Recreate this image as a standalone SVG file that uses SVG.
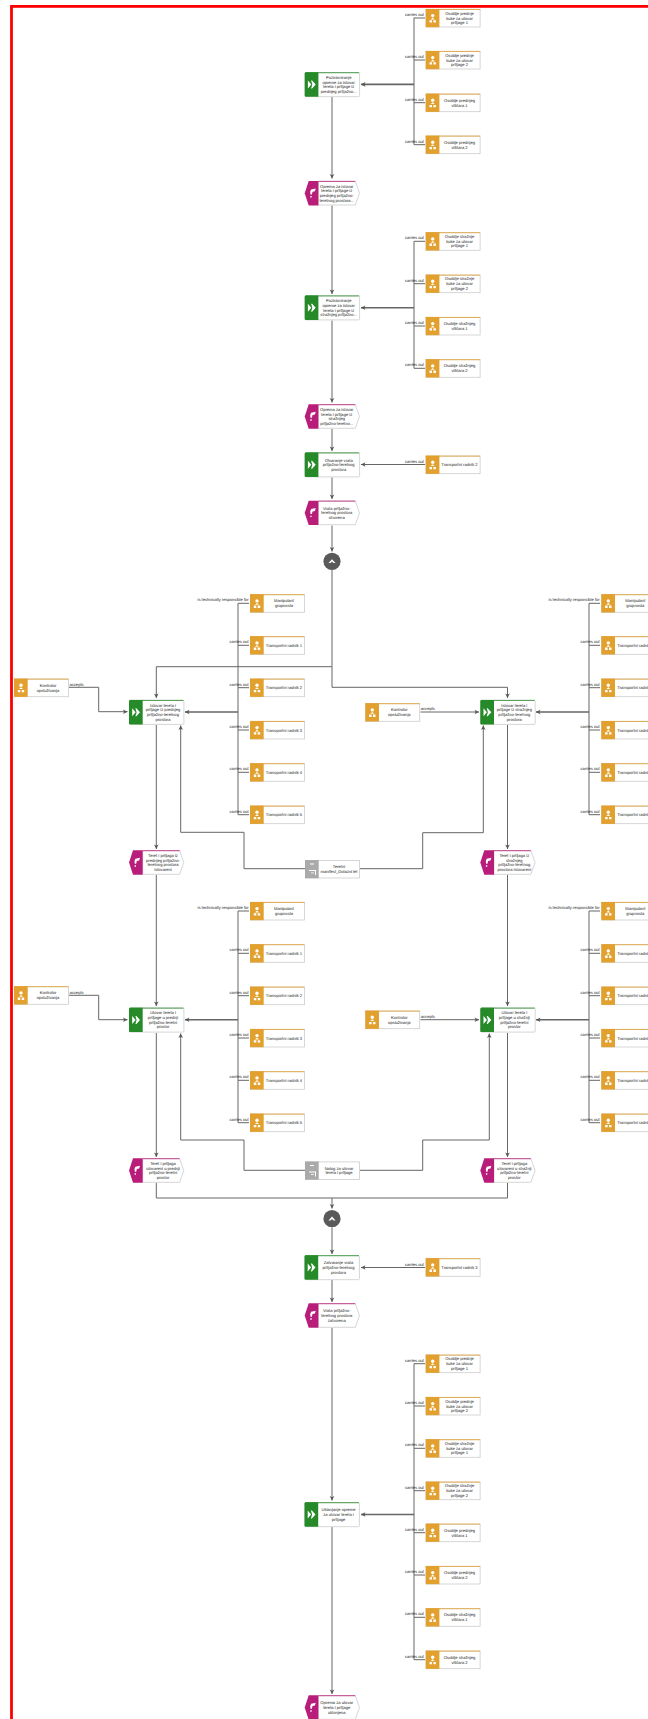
<svg xmlns="http://www.w3.org/2000/svg" width="648" height="1719" viewBox="0 0 648 1719">
<style>
text{font-family:"Liberation Sans",Arial,sans-serif;font-size:4.1px;fill:#222;text-rendering:geometricPrecision}
.c{text-anchor:middle}
.e{text-anchor:end}
.ln{fill:none;stroke:#666;stroke-width:1}
.th{fill:none;stroke:#666;stroke-width:1.6}
.box{fill:#fff;stroke:#ccc;stroke-width:.8}
.ic{fill:#fff}
</style>
<defs>
<marker id="a" markerUnits="userSpaceOnUse" markerWidth="5" markerHeight="5" refX="4.5" refY="2.5" orient="auto" overflow="visible"><path d="M0 .2L4.5 2.5L0 4.8L1.2 2.5Z" fill="#555"/></marker>
<g id="role"><rect class="box" x=".4" y=".4" width="54" height="17.6"/><rect x="0" y="0" width="13.7" height="18.2" fill="#e2a02e"/><path d="M0 .4H54.5" stroke="#e2a02e" stroke-width=".8"/><circle class="ic" cx="7" cy="6.6" r="1.7"/><path class="ic" d="M5 10.4L7 8.6L9 10.4ZM3.8 11.2H6.3V13.6H3.8ZM7.7 11.2H10.2V13.6H7.7Z"/></g>
<g id="doc"><rect class="box" x=".4" y=".4" width="54" height="17.6"/><rect x="0" y="0" width="13.7" height="18.2" fill="#aaa"/><path class="ic" d="M5 3.5H9V4.5H5ZM4 10H10V11H4ZM10 10H11V15H10ZM6 12.5H9V13.3H6Z"/></g>
<g id="func"><rect class="box" x=".4" y=".4" width="54.5" height="24" rx="1"/><path d="M1 .4H54.5" stroke="#278a28" stroke-width=".8"/><path d="M1.2 0H13.7V24.4H1.2Q0 24.4 0 23.2V1.2Q0 0 1.2 0Z" fill="#278a28"/><path class="ic" d="M3.2 8.2L6.6 12.2L3.2 16.2ZM6.4 8.2H7.4L11 12.2L7.4 16.2H6.4L7.6 12.2Z"/></g>
<g id="event"><path class="box" d="M13.7 .4H50.6L54.8 12.2L50.6 24H13.7Z"/><path d="M13.7 .4H50.6" stroke="#b91d7a" stroke-width=".8"/><path d="M4 0H13.7V24.4H4L0 12.2Z" fill="#b91d7a"/><path class="ic" d="M5.5 10.6L6.4 8.4L11 7.4L10.2 10.2L7.8 10.8L7.2 13.4H5.8ZM5.6 15H7V16.4H5.6Z"/></g>
</defs>
<rect id="frame" x="11.5" y="6.4" width="800" height="1800" fill="none" stroke="#f00" stroke-width="2.8"/>
<g id="connectors">
<path class="ln" d="M414 17.7V144.7M414 18H425M414 60H425M414 102.7H425M414 144.7H425"/>
<path class="th" marker-end="url(#a)" d="M414 84.4H361"/>
<path class="ln" marker-end="url(#a)" d="M332 97V178.5"/>
<path class="ln" marker-end="url(#a)" d="M332 205.5V294"/>
<path class="ln" d="M414 241.3V368.3M414 241.3H425M414 283.7H425M414 326H425M414 368.3H425"/>
<path class="th" marker-end="url(#a)" d="M414 307.7H361"/>
<path class="ln" marker-end="url(#a)" d="M332 320.5V402.5"/>
<path class="ln" marker-end="url(#a)" d="M332 429V451"/>
<path class="ln" marker-end="url(#a)" d="M425 464.5H361"/>
<path class="ln" marker-end="url(#a)" d="M332 477.5V499"/>
<path class="ln" marker-end="url(#a)" d="M332 525.5V551.5"/>
<path class="ln" marker-end="url(#a)" d="M332 570V666.7H156.3V698"/>
<path class="ln" marker-end="url(#a)" d="M332 666.7V687.3H507.5V698"/>
<path class="ln" d="M238 603.3V814.7M238 603.3H249M238 645.3H249M238 687.7H249M238 730H249M238 772.3H249M238 814.7H249"/>
<path class="th" marker-end="url(#a)" d="M238 712H185"/>
<path class="ln" marker-end="url(#a)" d="M69 687.3H98.7V711.7H127.5"/>
<path class="ln" marker-end="url(#a)" d="M156.3 725V849"/>
<path class="ln" marker-end="url(#a)" d="M305 868.7H244V832.3H180.7V725.5"/>
<path class="ln" d="M589 603.3V814.7M589 603.3H600M589 645.3H600M589 687.7H600M589 730H600M589 772.3H600M589 814.7H600"/>
<path class="th" marker-end="url(#a)" d="M589 712H536"/>
<path class="ln" marker-end="url(#a)" d="M420.5 712H479"/>
<path class="ln" marker-end="url(#a)" d="M507.5 725V849"/>
<path class="ln" marker-end="url(#a)" d="M360 868.7H422.7V832.7H483.3V725.5"/>
<path class="ln" marker-end="url(#a)" d="M156.3 875V1006"/>
<path class="ln" marker-end="url(#a)" d="M507.5 875V1006"/>
<path class="ln" d="M238 911V1122.7M238 911H249M238 953.3H249M238 995.7H249M238 1038H249M238 1080.3H249M238 1122.7H249"/>
<path class="th" marker-end="url(#a)" d="M238 1019.8H185"/>
<path class="ln" marker-end="url(#a)" d="M69 995.3H98.7V1019.7H127.5"/>
<path class="ln" marker-end="url(#a)" d="M156.3 1033V1157"/>
<path class="ln" marker-end="url(#a)" d="M305 1170.3H244V1140H180.7V1033.5"/>
<path class="ln" d="M589 911V1122.7M589 911H600M589 953.3H600M589 995.7H600M589 1038H600M589 1080.3H600M589 1122.7H600"/>
<path class="th" marker-end="url(#a)" d="M589 1019.8H536"/>
<path class="ln" marker-end="url(#a)" d="M420.5 1019.7H479"/>
<path class="ln" marker-end="url(#a)" d="M507.5 1033V1157"/>
<path class="ln" marker-end="url(#a)" d="M360 1170.3H422.7V1140H489.3V1033.5"/>
<path class="ln" d="M156.3 1183V1198H507.5V1183"/>
<path class="ln" marker-end="url(#a)" d="M332 1198V1208.5"/>
<path class="ln" marker-end="url(#a)" d="M332 1227.5V1254"/>
<path class="ln" marker-end="url(#a)" d="M425 1267.5H361"/>
<path class="ln" marker-end="url(#a)" d="M332 1280V1302"/>
<path class="ln" marker-end="url(#a)" d="M332 1328V1500.5"/>
<path class="ln" d="M414 1363.7V1659.7M414 1363.7H425M414 1406H425M414 1448.3H425M414 1490.7H425M414 1532.7H425M414 1575H425M414 1617.3H425M414 1659.7H425"/>
<path class="th" marker-end="url(#a)" d="M414 1514.5H361"/>
<path class="ln" marker-end="url(#a)" d="M332 1527V1694"/>
</g>
<g id="connector-labels">
<text class="e" x="424" y="16">carries out</text><text class="e" x="424" y="58">carries out</text><text class="e" x="424" y="100.7">carries out</text><text class="e" x="424" y="142.7">carries out</text>
<text class="e" x="424" y="239.3">carries out</text><text class="e" x="424" y="281.7">carries out</text><text class="e" x="424" y="324">carries out</text><text class="e" x="424" y="366.3">carries out</text>
<text class="e" x="424" y="462.5">carries out</text>
<text class="e" x="248.7" y="601.3">is technically responsible for</text><text class="e" x="248.7" y="643.3">carries out</text><text class="e" x="248.7" y="685.7">carries out</text><text class="e" x="248.7" y="728">carries out</text><text class="e" x="248.7" y="770.3">carries out</text><text class="e" x="248.7" y="812.7">carries out</text>
<text class="e" x="599.7" y="601.3">is technically responsible for</text><text class="e" x="599.7" y="643.3">carries out</text><text class="e" x="599.7" y="685.7">carries out</text><text class="e" x="599.7" y="728">carries out</text><text class="e" x="599.7" y="770.3">carries out</text><text class="e" x="599.7" y="812.7">carries out</text>
<text class="e" x="248.7" y="909">is technically responsible for</text><text class="e" x="248.7" y="951.3">carries out</text><text class="e" x="248.7" y="993.7">carries out</text><text class="e" x="248.7" y="1036">carries out</text><text class="e" x="248.7" y="1078.3">carries out</text><text class="e" x="248.7" y="1120.7">carries out</text>
<text class="e" x="599.7" y="909">is technically responsible for</text><text class="e" x="599.7" y="951.3">carries out</text><text class="e" x="599.7" y="993.7">carries out</text><text class="e" x="599.7" y="1036">carries out</text><text class="e" x="599.7" y="1078.3">carries out</text><text class="e" x="599.7" y="1120.7">carries out</text>
<text class="e" x="424" y="1265.5">carries out</text>
<text class="e" x="424" y="1361.7">carries out</text><text class="e" x="424" y="1404">carries out</text><text class="e" x="424" y="1446.3">carries out</text><text class="e" x="424" y="1488.7">carries out</text><text class="e" x="424" y="1530.7">carries out</text><text class="e" x="424" y="1573">carries out</text><text class="e" x="424" y="1615.3">carries out</text><text class="e" x="424" y="1657.7">carries out</text>
<text x="69.5" y="685.6">accepts</text><text x="420.8" y="710.3">accepts</text><text x="69.5" y="993.6">accepts</text><text x="420.8" y="1018">accepts</text>
</g>
<g id="r01" transform="translate(425.7,9)"><use href="#role"/><text class="c"><tspan x="33.8" y="5.8">Osoblje prednje</tspan><tspan x="33.8" y="10.5">kuke za utovar</tspan><tspan x="33.8" y="15.2">prtljage 1</tspan></text></g>
<g id="r02" transform="translate(425.7,51)"><use href="#role"/><text class="c"><tspan x="33.8" y="5.8">Osoblje prednje</tspan><tspan x="33.8" y="10.5">kuke za utovar</tspan><tspan x="33.8" y="15.2">prtljage 2</tspan></text></g>
<g id="r03" transform="translate(425.7,93.7)"><use href="#role"/><text class="c"><tspan x="33.8" y="8.2">Osoblje prednjeg</tspan><tspan x="33.8" y="12.9">viličara 1</tspan></text></g>
<g id="r04" transform="translate(425.7,135.7)"><use href="#role"/><text class="c"><tspan x="33.8" y="8.2">Osoblje prednjeg</tspan><tspan x="33.8" y="12.9">viličara 2</tspan></text></g>
<g id="f01" transform="translate(304.7,72.3)"><use href="#func"/><text class="c"><tspan x="34" y="6.6">Pozicioniranje</tspan><tspan x="34" y="11.3">opreme za istovar</tspan><tspan x="34" y="16">tereta i prtljage iz</tspan><tspan x="34" y="20.7">prednjeg prtljažno...</tspan></text></g>
<g id="e01" transform="translate(304.7,181)"><use href="#event"/><text class="c"><tspan x="32" y="6.6">Oprema za istovar</tspan><tspan x="32" y="11.3">tereta i prtljage iz</tspan><tspan x="32" y="16">prednjeg prtljažno-</tspan><tspan x="32" y="20.7">teretnog prostora...</tspan></text></g>
<g id="r05" transform="translate(425.7,232.3)"><use href="#role"/><text class="c"><tspan x="33.8" y="5.8">Osoblje stražnje</tspan><tspan x="33.8" y="10.5">kuke za utovar</tspan><tspan x="33.8" y="15.2">prtljage 1</tspan></text></g>
<g id="r06" transform="translate(425.7,274.7)"><use href="#role"/><text class="c"><tspan x="33.8" y="5.8">Osoblje stražnje</tspan><tspan x="33.8" y="10.5">kuke za utovar</tspan><tspan x="33.8" y="15.2">prtljage 2</tspan></text></g>
<g id="r07" transform="translate(425.7,317)"><use href="#role"/><text class="c"><tspan x="33.8" y="8.2">Osoblje stražnjeg</tspan><tspan x="33.8" y="12.9">viličara 1</tspan></text></g>
<g id="r08" transform="translate(425.7,359.3)"><use href="#role"/><text class="c"><tspan x="33.8" y="8.2">Osoblje stražnjeg</tspan><tspan x="33.8" y="12.9">viličara 2</tspan></text></g>
<g id="f02" transform="translate(304.7,295.5)"><use href="#func"/><text class="c"><tspan x="34" y="6.6">Pozicioniranje</tspan><tspan x="34" y="11.3">opreme za istovar</tspan><tspan x="34" y="16">tereta i prtljage iz</tspan><tspan x="34" y="20.7">stražnjeg prtljažno...</tspan></text></g>
<g id="e02" transform="translate(304.7,404.3)"><use href="#event"/><text class="c"><tspan x="32" y="6.6">Oprema za istovar</tspan><tspan x="32" y="11.3">tereta i prtljage iz</tspan><tspan x="32" y="16">stražnjeg</tspan><tspan x="32" y="20.7">prtljažno-teretno...</tspan></text></g>
<g id="f03" transform="translate(304.7,452.5)"><use href="#func"/><text class="c"><tspan x="34" y="9">Otvaranje vrata</tspan><tspan x="34" y="13.7">prtljažno-teretnog</tspan><tspan x="34" y="18.4">prostora</tspan></text></g>
<g id="r09" transform="translate(425.7,455.7)"><use href="#role"/><text class="c" x="33.8" y="10.5">Transportni radnik 2</text></g>
<g id="e03" transform="translate(304.7,500.7)"><use href="#event"/><text class="c"><tspan x="32" y="9">Vrata prtljažno-</tspan><tspan x="32" y="13.7">teretnog prostora</tspan><tspan x="32" y="18.4">otvorena</tspan></text></g>
<g id="g01"><circle cx="332" cy="561.3" r="8.6" fill="#5a5a5a"/><path d="M328.5 563L332 559.2L335.5 563H333.5L332 561.5L330.5 563Z" fill="#fff"/></g>
<g id="k01" transform="translate(14,678.7)"><use href="#role"/><text class="c"><tspan x="34" y="8.2">Kontrolor</tspan><tspan x="34" y="12.9">opsluživanja</tspan></text></g>
<g id="f04" transform="translate(129,700)"><use href="#func"/><text class="c"><tspan x="34" y="6.6">Istovar tereta i</tspan><tspan x="34" y="11.3">prtljage iz prednjeg</tspan><tspan x="34" y="16">prtljažno-teretnog</tspan><tspan x="34" y="20.7">prostora</tspan></text></g>
<g id="r10" transform="translate(250,594.3)"><use href="#role"/><text class="c"><tspan x="34" y="8.2">Manipulant</tspan><tspan x="34" y="12.9">grupnosta</tspan></text></g>
<g id="r11" transform="translate(250,636.3)"><use href="#role"/><text class="c" x="34" y="10.5">Transportni radnik 1</text></g>
<g id="r12" transform="translate(250,678.7)"><use href="#role"/><text class="c" x="34" y="10.5">Transportni radnik 2</text></g>
<g id="r13" transform="translate(250,721)"><use href="#role"/><text class="c" x="34" y="10.5">Transportni radnik 3</text></g>
<g id="r14" transform="translate(250,763.3)"><use href="#role"/><text class="c" x="34" y="10.5">Transportni radnik 4</text></g>
<g id="r15" transform="translate(250,805.7)"><use href="#role"/><text class="c" x="34" y="10.5">Transportni radnik 5</text></g>
<g id="e04" transform="translate(129,850.3)"><use href="#event"/><text class="c"><tspan x="34" y="6.6">Teret i prtljaga iz</tspan><tspan x="34" y="11.3">prednjeg prtljažno-</tspan><tspan x="34" y="16">teretnog prostora</tspan><tspan x="34" y="20.7">istovareni</tspan></text></g>
<g id="d01" transform="translate(305,860)"><use href="#doc"/><text class="c"><tspan x="34" y="8.2">Teretni</tspan><tspan x="34" y="12.9">manifest_Dolazni let</tspan></text></g>
<g id="k02" transform="translate(365.3,703.3)"><use href="#role"/><text class="c"><tspan x="34" y="8.2">Kontrolor</tspan><tspan x="34" y="12.9">opsluživanja</tspan></text></g>
<g id="f05" transform="translate(480.3,700)"><use href="#func"/><text class="c"><tspan x="34" y="6.6">Istovar tereta i</tspan><tspan x="34" y="11.3">prtljage iz stražnjeg</tspan><tspan x="34" y="16">prtljažno-teretnog</tspan><tspan x="34" y="20.7">prostora</tspan></text></g>
<g id="r16" transform="translate(601.3,594.3)"><use href="#role"/><text class="c"><tspan x="34" y="8.2">Manipulant</tspan><tspan x="34" y="12.9">grupnosta</tspan></text></g>
<g id="r17" transform="translate(601.3,636.3)"><use href="#role"/><text class="c" x="34" y="10.5">Transportni radnik 1</text></g>
<g id="r18" transform="translate(601.3,678.7)"><use href="#role"/><text class="c" x="34" y="10.5">Transportni radnik 2</text></g>
<g id="r19" transform="translate(601.3,721)"><use href="#role"/><text class="c" x="34" y="10.5">Transportni radnik 3</text></g>
<g id="r20" transform="translate(601.3,763.3)"><use href="#role"/><text class="c" x="34" y="10.5">Transportni radnik 4</text></g>
<g id="r21" transform="translate(601.3,805.7)"><use href="#role"/><text class="c" x="34" y="10.5">Transportni radnik 5</text></g>
<g id="e05" transform="translate(480.3,850.3)"><use href="#event"/><text class="c"><tspan x="34" y="6.6">Teret i prtljaga iz</tspan><tspan x="34" y="11.3">stražnjeg</tspan><tspan x="34" y="16">prtljažno-teretnog</tspan><tspan x="34" y="20.7">prostora istovareni</tspan></text></g>
<g id="k03" transform="translate(14,986.3)"><use href="#role"/><text class="c"><tspan x="34" y="8.2">Kontrolor</tspan><tspan x="34" y="12.9">opsluživanja</tspan></text></g>
<g id="f06" transform="translate(129,1007.7)"><use href="#func"/><text class="c"><tspan x="34" y="6.6">Utovar tereta i</tspan><tspan x="34" y="11.3">prtljage u prednji</tspan><tspan x="34" y="16">prtljažno-teretni</tspan><tspan x="34" y="20.7">prostor</tspan></text></g>
<g id="r22" transform="translate(250,902)"><use href="#role"/><text class="c"><tspan x="34" y="8.2">Manipulant</tspan><tspan x="34" y="12.9">grupnosta</tspan></text></g>
<g id="r23" transform="translate(250,944.3)"><use href="#role"/><text class="c" x="34" y="10.5">Transportni radnik 1</text></g>
<g id="r24" transform="translate(250,986.7)"><use href="#role"/><text class="c" x="34" y="10.5">Transportni radnik 2</text></g>
<g id="r25" transform="translate(250,1029)"><use href="#role"/><text class="c" x="34" y="10.5">Transportni radnik 3</text></g>
<g id="r26" transform="translate(250,1071.3)"><use href="#role"/><text class="c" x="34" y="10.5">Transportni radnik 4</text></g>
<g id="r27" transform="translate(250,1113.7)"><use href="#role"/><text class="c" x="34" y="10.5">Transportni radnik 5</text></g>
<g id="e06" transform="translate(129,1158.3)"><use href="#event"/><text class="c"><tspan x="34" y="6.6">Teret i prtljaga</tspan><tspan x="34" y="11.3">utovareni u prednji</tspan><tspan x="34" y="16">prtljažno-teretni</tspan><tspan x="34" y="20.7">prostor</tspan></text></g>
<g id="d02" transform="translate(305,1161.5)"><use href="#doc"/><text class="c"><tspan x="34" y="8.2">Nalog za utovar</tspan><tspan x="34" y="12.9">tereta i prtljage</tspan></text></g>
<g id="k04" transform="translate(365.3,1010.7)"><use href="#role"/><text class="c"><tspan x="34" y="8.2">Kontrolor</tspan><tspan x="34" y="12.9">opsluživanja</tspan></text></g>
<g id="f07" transform="translate(480.3,1007.7)"><use href="#func"/><text class="c"><tspan x="34" y="6.6">Utovar tereta i</tspan><tspan x="34" y="11.3">prtljage u stražnji</tspan><tspan x="34" y="16">prtljažno-teretni</tspan><tspan x="34" y="20.7">prostor</tspan></text></g>
<g id="r28" transform="translate(601.3,902)"><use href="#role"/><text class="c"><tspan x="34" y="8.2">Manipulant</tspan><tspan x="34" y="12.9">grupnosta</tspan></text></g>
<g id="r29" transform="translate(601.3,944.3)"><use href="#role"/><text class="c" x="34" y="10.5">Transportni radnik 1</text></g>
<g id="r30" transform="translate(601.3,986.7)"><use href="#role"/><text class="c" x="34" y="10.5">Transportni radnik 2</text></g>
<g id="r31" transform="translate(601.3,1029)"><use href="#role"/><text class="c" x="34" y="10.5">Transportni radnik 3</text></g>
<g id="r32" transform="translate(601.3,1071.3)"><use href="#role"/><text class="c" x="34" y="10.5">Transportni radnik 4</text></g>
<g id="r33" transform="translate(601.3,1113.7)"><use href="#role"/><text class="c" x="34" y="10.5">Transportni radnik 5</text></g>
<g id="e07" transform="translate(480.3,1158.3)"><use href="#event"/><text class="c"><tspan x="34" y="6.6">Teret i prtljaga</tspan><tspan x="34" y="11.3">utovareni u stražnji</tspan><tspan x="34" y="16">prtljažno-teretni</tspan><tspan x="34" y="20.7">prostor</tspan></text></g>
<g id="g02"><circle cx="332" cy="1218.7" r="8.6" fill="#5a5a5a"/><path d="M328.5 1220.4L332 1216.6L335.5 1220.4H333.5L332 1218.9L330.5 1220.4Z" fill="#fff"/></g>
<g id="f08" transform="translate(304.5,1255.3)"><use href="#func"/><text class="c"><tspan x="34" y="9">Zatvaranje vrata</tspan><tspan x="34" y="13.7">prtljažno-teretnog</tspan><tspan x="34" y="18.4">prostora</tspan></text></g>
<g id="r34" transform="translate(425.7,1258.3)"><use href="#role"/><text class="c" x="33.8" y="10.5">Transportni radnik 3</text></g>
<g id="e08" transform="translate(304.7,1303.3)"><use href="#event"/><text class="c"><tspan x="32" y="9">Vrata prtljažno-</tspan><tspan x="32" y="13.7">teretnog prostora</tspan><tspan x="32" y="18.4">zatvorena</tspan></text></g>
<g id="r35" transform="translate(425.7,1354.7)"><use href="#role"/><text class="c"><tspan x="33.8" y="5.8">Osoblje prednje</tspan><tspan x="33.8" y="10.5">kuke za utovar</tspan><tspan x="33.8" y="15.2">prtljage 1</tspan></text></g>
<g id="r36" transform="translate(425.7,1397)"><use href="#role"/><text class="c"><tspan x="33.8" y="5.8">Osoblje prednje</tspan><tspan x="33.8" y="10.5">kuke za utovar</tspan><tspan x="33.8" y="15.2">prtljage 2</tspan></text></g>
<g id="r37" transform="translate(425.7,1439.3)"><use href="#role"/><text class="c"><tspan x="33.8" y="5.8">Osoblje stražnje</tspan><tspan x="33.8" y="10.5">kuke za utovar</tspan><tspan x="33.8" y="15.2">prtljage 1</tspan></text></g>
<g id="r38" transform="translate(425.7,1481.7)"><use href="#role"/><text class="c"><tspan x="33.8" y="5.8">Osoblje stražnje</tspan><tspan x="33.8" y="10.5">kuke za utovar</tspan><tspan x="33.8" y="15.2">prtljage 2</tspan></text></g>
<g id="r39" transform="translate(425.7,1523.7)"><use href="#role"/><text class="c"><tspan x="33.8" y="8.2">Osoblje prednjeg</tspan><tspan x="33.8" y="12.9">viličara 1</tspan></text></g>
<g id="r40" transform="translate(425.7,1566)"><use href="#role"/><text class="c"><tspan x="33.8" y="8.2">Osoblje prednjeg</tspan><tspan x="33.8" y="12.9">viličara 2</tspan></text></g>
<g id="r41" transform="translate(425.7,1608.3)"><use href="#role"/><text class="c"><tspan x="33.8" y="8.2">Osoblje stražnjeg</tspan><tspan x="33.8" y="12.9">viličara 1</tspan></text></g>
<g id="r42" transform="translate(425.7,1650.7)"><use href="#role"/><text class="c"><tspan x="33.8" y="8.2">Osoblje stražnjeg</tspan><tspan x="33.8" y="12.9">viličara 2</tspan></text></g>
<g id="f09" transform="translate(304.5,1502.3)"><use href="#func"/><text class="c"><tspan x="34" y="9">Uklanjanje opreme</tspan><tspan x="34" y="13.7">za utovar tereta i</tspan><tspan x="34" y="18.4">prtljage</tspan></text></g>
<g id="e09" transform="translate(304.7,1695.3)"><use href="#event"/><text class="c"><tspan x="32" y="9">Oprema za utovar</tspan><tspan x="32" y="13.7">tereta i prtljage</tspan><tspan x="32" y="18.4">uklonjena</tspan></text></g>
</svg>
